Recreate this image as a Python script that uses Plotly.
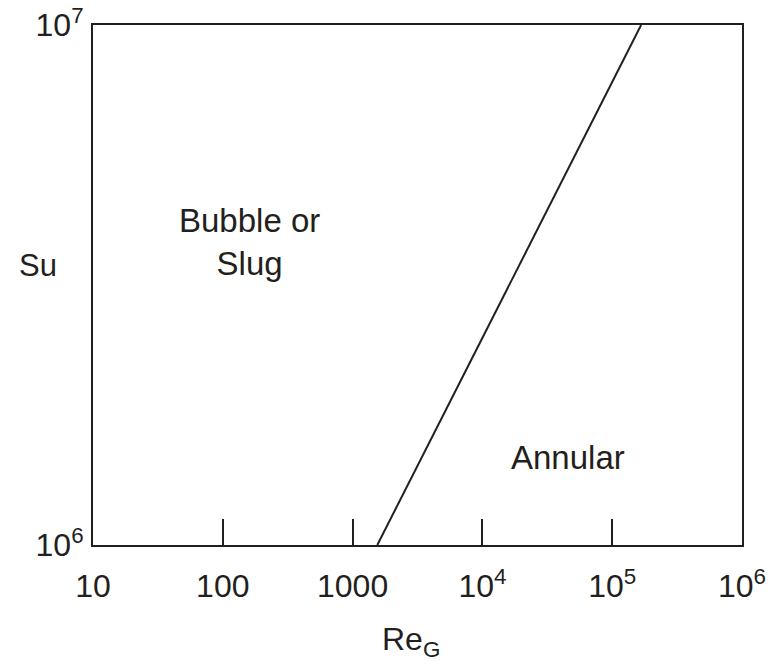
import plotly.graph_objects as go

# boundary between bubble/slug and annular regimes
RE_G = [1550, 167000]
SU = [1e6, 1e7]

X_TICKS = [10, 100, 1000, 1e4, 1e5, 1e6]
X_TICK_TEXT = ["10", "100", "1000", "10<sup>4</sup>", "10<sup>5</sup>", "10<sup>6</sup>"]
Y_TICKS = [1e6, 1e7]
Y_TICK_TEXT = ["10<sup>6</sup>", "10<sup>7</sup>"]

# region labels: (text, log10 Re_G, log10 Su)
REGIONS = [
    ("Bubble or<br>Slug", 2.207, 6.583),
    ("Annular", 4.657, 6.168),
]

INK = "#231f20"
FONT = "Liberation Sans, Arial, sans-serif"

fig = go.Figure()
fig.add_trace(
    go.Scatter(
        x=RE_G, y=SU, mode="lines",
        line=dict(color=INK, width=2),
        showlegend=False, hoverinfo="skip",
    )
)

for txt, lx, ly in REGIONS:
    fig.add_annotation(
        x=lx, y=ly, xref="x", yref="y", text=txt, showarrow=False,
        font=dict(size=33, color=INK, family=FONT), align="center",
    )

# axis titles as annotations to place them like the original
fig.add_annotation(
    x=0.49, y=-0.1865, xref="paper", yref="paper", text="Re<sub>G</sub>",
    showarrow=False, font=dict(size=32, color=INK, family=FONT),
    xanchor="center", yanchor="middle",
)
fig.add_annotation(
    x=-0.085, y=0.538, xref="paper", yref="paper", text="Su",
    showarrow=False, font=dict(size=31, color=INK, family=FONT),
    xanchor="center", yanchor="middle",
)

fig.update_xaxes(
    type="log", range=[1, 6],
    tickvals=X_TICKS, ticktext=X_TICK_TEXT,
    ticks="inside", ticklen=26, tickwidth=2, tickcolor=INK,
    ticklabelstandoff=12, automargin=False, ticklabeloverflow="allow",
    showline=True, linewidth=2, linecolor=INK, mirror=True,
    showgrid=False, zeroline=False,
    tickfont=dict(size=32, color=INK, family=FONT),
)
fig.update_yaxes(
    type="log", range=[6, 7],
    tickvals=Y_TICKS, ticktext=Y_TICK_TEXT,
    ticks="", ticklabelstandoff=1, automargin=False, ticklabeloverflow="allow",
    showline=True, linewidth=2, linecolor=INK, mirror=True,
    showgrid=False, zeroline=False,
    tickfont=dict(size=32, color=INK, family=FONT),
)

fig.update_layout(
    width=779, height=667,
    margin=dict(l=93, r=37, t=25, b=122),
    paper_bgcolor="white", plot_bgcolor="white",
    showlegend=False,
)

# drop the default 8px body margin so the figure fills the window
fig.write_html(
    "out.html",
    config={"displayModeBar": False},
    post_script="document.body.style.margin='0';",
)
